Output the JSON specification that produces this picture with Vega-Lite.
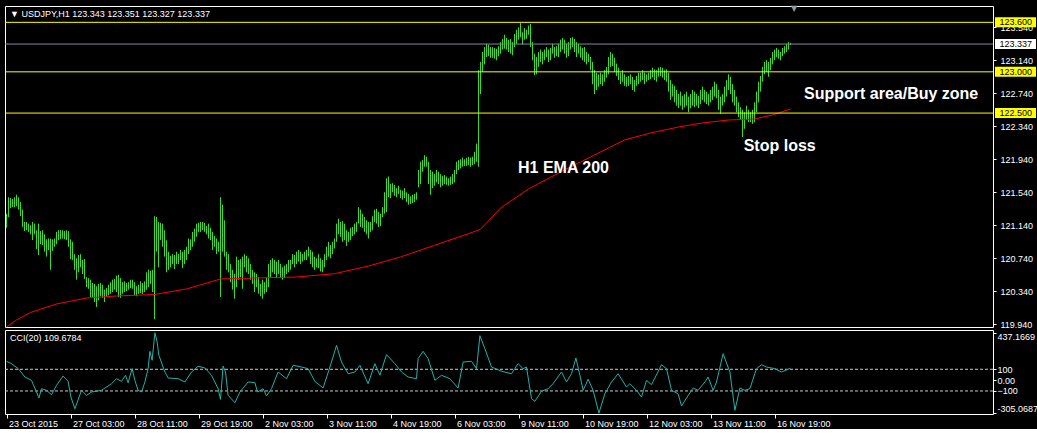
{
  "$schema": "https://vega.github.io/schema/vega-lite/v6.json",
  "background": "#000000",
  "padding": {"left": 4, "top": 4, "right": 0, "bottom": 0},
  "bounds": "flush",
  "spacing": 3,
  "config": {
    "view": {"stroke": "#FFFFFF", "strokeWidth": 1},
    "axis": {"labelFont": "Liberation Sans", "labelFontSize": 9, "labelColor": "#FFFFFF", "tickColor": "#FFFFFF", "domain": false, "grid": false, "title": null, "labelOverlap": false, "tickCount": 100},
    "scale": {"continuousPadding": 0}
  },
  "datasets": {
    "bars": [
      {"i":0,"h":121.28,"l":121.11},{"i":1,"h":121.48,"l":121.24},{"i":2,"h":121.47,"l":121.35},{"i":3,"h":121.46,"l":121.36},{"i":4,"h":121.48,"l":121.36},{"i":5,"h":121.51,"l":121.37},{"i":6,"h":121.48,"l":121.33},{"i":7,"h":121.42,"l":121.25},{"i":8,"h":121.33,"l":121.12},{"i":9,"h":121.18,"l":121.07},
      {"i":10,"h":121.18,"l":121.08},{"i":11,"h":121.16,"l":121.06},{"i":12,"h":121.14,"l":121.03},{"i":13,"h":121.18,"l":120.96},{"i":14,"h":121.16,"l":121.03},{"i":15,"h":121.08,"l":120.85},{"i":16,"h":121.16,"l":120.78},{"i":17,"h":121.07,"l":120.91},{"i":18,"h":121.08,"l":120.90},{"i":19,"h":121.03,"l":120.82},
      {"i":20,"h":120.97,"l":120.76},{"i":21,"h":120.98,"l":120.84},{"i":22,"h":120.98,"l":120.60},{"i":23,"h":120.97,"l":120.83},{"i":24,"h":120.98,"l":120.88},{"i":25,"h":121.06,"l":120.91},{"i":26,"h":121.08,"l":120.96},{"i":27,"h":121.08,"l":120.97},{"i":28,"h":121.08,"l":120.98},{"i":29,"h":121.07,"l":120.97},
      {"i":30,"h":121.08,"l":120.96},{"i":31,"h":121.07,"l":120.88},{"i":32,"h":120.97,"l":120.73},{"i":33,"h":120.94,"l":120.72},{"i":34,"h":120.79,"l":120.60},{"i":35,"h":120.74,"l":120.48},{"i":36,"h":120.78,"l":120.57},{"i":37,"h":120.79,"l":120.63},{"i":38,"h":120.72,"l":120.55},{"i":39,"h":120.73,"l":120.49},
      {"i":40,"h":120.51,"l":120.39},{"i":41,"h":120.50,"l":120.37},{"i":42,"h":120.48,"l":120.27},{"i":43,"h":120.44,"l":120.26},{"i":44,"h":120.43,"l":120.21},{"i":45,"h":120.40,"l":120.15},{"i":46,"h":120.43,"l":120.23},{"i":47,"h":120.44,"l":120.28},{"i":48,"h":120.42,"l":120.26},{"i":49,"h":120.36,"l":120.21},
      {"i":50,"h":120.38,"l":120.28},{"i":51,"h":120.42,"l":120.29},{"i":52,"h":120.45,"l":120.31},{"i":53,"h":120.48,"l":120.33},{"i":54,"h":120.49,"l":120.36},{"i":55,"h":120.53,"l":120.33},{"i":56,"h":120.54,"l":120.27},{"i":57,"h":120.50,"l":120.26},{"i":58,"h":120.45,"l":120.31},{"i":59,"h":120.46,"l":120.33},
      {"i":60,"h":120.44,"l":120.34},{"i":61,"h":120.45,"l":120.36},{"i":62,"h":120.48,"l":120.38},{"i":63,"h":120.48,"l":120.37},{"i":64,"h":120.45,"l":120.29},{"i":65,"h":120.40,"l":120.28},{"i":66,"h":120.42,"l":120.31},{"i":67,"h":120.46,"l":120.32},{"i":68,"h":120.44,"l":120.31},{"i":69,"h":120.46,"l":120.33},
      {"i":70,"h":120.57,"l":120.36},{"i":71,"h":120.60,"l":120.39},{"i":72,"h":120.59,"l":120.43},{"i":73,"h":120.60,"l":120.33},{"i":74,"h":121.25,"l":120.00},{"i":75,"h":121.24,"l":120.82},{"i":76,"h":121.18,"l":120.63},{"i":77,"h":121.17,"l":120.96},{"i":78,"h":121.16,"l":120.88},{"i":79,"h":121.08,"l":120.76},
      {"i":80,"h":120.96,"l":120.57},{"i":81,"h":120.82,"l":120.60},{"i":82,"h":120.77,"l":120.63},{"i":83,"h":120.79,"l":120.67},{"i":84,"h":120.78,"l":120.61},{"i":85,"h":120.82,"l":120.67},{"i":86,"h":120.79,"l":120.67},{"i":87,"h":120.84,"l":120.72},{"i":88,"h":120.82,"l":120.62},{"i":89,"h":120.84,"l":120.67},
      {"i":90,"h":120.88,"l":120.72},{"i":91,"h":120.98,"l":120.79},{"i":92,"h":120.97,"l":120.84},{"i":93,"h":121.06,"l":120.88},{"i":94,"h":121.10,"l":120.94},{"i":95,"h":121.16,"l":121.00},{"i":96,"h":121.17,"l":121.06},{"i":97,"h":121.18,"l":121.06},{"i":98,"h":121.18,"l":121.08},{"i":99,"h":121.17,"l":121.06},
      {"i":100,"h":121.13,"l":121.03},{"i":101,"h":121.16,"l":120.98},{"i":102,"h":121.11,"l":120.96},{"i":103,"h":121.06,"l":120.84},{"i":104,"h":121.01,"l":120.88},{"i":105,"h":120.98,"l":120.79},{"i":106,"h":120.94,"l":120.82},{"i":107,"h":121.48,"l":120.27},{"i":108,"h":121.39,"l":120.82},{"i":109,"h":121.20,"l":120.76},
      {"i":110,"h":120.82,"l":120.60},{"i":111,"h":120.79,"l":120.57},{"i":112,"h":120.67,"l":120.45},{"i":113,"h":120.60,"l":120.36},{"i":114,"h":120.55,"l":120.25},{"i":115,"h":120.76,"l":120.39},{"i":116,"h":120.72,"l":120.48},{"i":117,"h":120.73,"l":120.51},{"i":118,"h":120.76,"l":120.37},{"i":119,"h":120.79,"l":120.63},
      {"i":120,"h":120.77,"l":120.57},{"i":121,"h":120.74,"l":120.55},{"i":122,"h":120.67,"l":120.48},{"i":123,"h":120.60,"l":120.43},{"i":124,"h":120.57,"l":120.33},{"i":125,"h":120.55,"l":120.39},{"i":126,"h":120.51,"l":120.31},{"i":127,"h":120.43,"l":120.28},{"i":128,"h":120.48,"l":120.25},{"i":129,"h":120.45,"l":120.31},
      {"i":130,"h":120.51,"l":120.33},{"i":131,"h":120.67,"l":120.39},{"i":132,"h":120.72,"l":120.51},{"i":133,"h":120.74,"l":120.57},{"i":134,"h":120.72,"l":120.55},{"i":135,"h":120.70,"l":120.50},{"i":136,"h":120.72,"l":120.55},{"i":137,"h":120.67,"l":120.50},{"i":138,"h":120.63,"l":120.48},{"i":139,"h":120.65,"l":120.50},
      {"i":140,"h":120.67,"l":120.55},{"i":141,"h":120.72,"l":120.57},{"i":142,"h":120.72,"l":120.60},{"i":143,"h":120.79,"l":120.67},{"i":144,"h":120.78,"l":120.63},{"i":145,"h":120.82,"l":120.67},{"i":146,"h":120.84,"l":120.70},{"i":147,"h":120.82,"l":120.67},{"i":148,"h":120.79,"l":120.70},{"i":149,"h":120.82,"l":120.72},
      {"i":150,"h":120.84,"l":120.72},{"i":151,"h":120.88,"l":120.76},{"i":152,"h":120.84,"l":120.67},{"i":153,"h":120.82,"l":120.63},{"i":154,"h":120.76,"l":120.60},{"i":155,"h":120.74,"l":120.63},{"i":156,"h":120.79,"l":120.62},{"i":157,"h":120.74,"l":120.58},{"i":158,"h":120.72,"l":120.57},{"i":159,"h":120.79,"l":120.63},
      {"i":160,"h":120.88,"l":120.72},{"i":161,"h":120.94,"l":120.76},{"i":162,"h":120.90,"l":120.74},{"i":163,"h":120.94,"l":120.79},{"i":164,"h":120.98,"l":120.86},{"i":165,"h":121.16,"l":120.94},{"i":166,"h":121.22,"l":121.03},{"i":167,"h":121.18,"l":121.00},{"i":168,"h":121.19,"l":120.94},{"i":169,"h":121.16,"l":120.96},
      {"i":170,"h":121.08,"l":120.89},{"i":171,"h":121.06,"l":120.94},{"i":172,"h":121.11,"l":120.96},{"i":173,"h":121.12,"l":121.01},{"i":174,"h":121.16,"l":121.03},{"i":175,"h":121.18,"l":121.06},{"i":176,"h":121.36,"l":121.16},{"i":177,"h":121.33,"l":121.12},{"i":178,"h":121.28,"l":121.11},{"i":179,"h":121.24,"l":121.06},
      {"i":180,"h":121.20,"l":121.03},{"i":181,"h":121.18,"l":120.98},{"i":182,"h":121.18,"l":121.06},{"i":183,"h":121.25,"l":121.08},{"i":184,"h":121.33,"l":121.18},{"i":185,"h":121.34,"l":121.16},{"i":186,"h":121.30,"l":121.12},{"i":187,"h":121.28,"l":121.13},{"i":188,"h":121.36,"l":121.24},{"i":189,"h":121.54,"l":121.28},
      {"i":190,"h":121.71,"l":121.30},{"i":191,"h":121.73,"l":121.48},{"i":192,"h":121.64,"l":121.47},{"i":193,"h":121.65,"l":121.54},{"i":194,"h":121.63,"l":121.50},{"i":195,"h":121.59,"l":121.48},{"i":196,"h":121.62,"l":121.52},{"i":197,"h":121.57,"l":121.47},{"i":198,"h":121.56,"l":121.45},{"i":199,"h":121.59,"l":121.47},
      {"i":200,"h":121.54,"l":121.42},{"i":201,"h":121.52,"l":121.39},{"i":202,"h":121.49,"l":121.40},{"i":203,"h":121.51,"l":121.41},{"i":204,"h":121.52,"l":121.42},{"i":205,"h":121.54,"l":121.45},{"i":206,"h":121.81,"l":121.60},{"i":207,"h":121.91,"l":121.64},{"i":208,"h":121.93,"l":121.79},{"i":209,"h":121.99,"l":121.85},
      {"i":210,"h":121.97,"l":121.85},{"i":211,"h":121.91,"l":121.64},{"i":212,"h":121.81,"l":121.51},{"i":213,"h":121.79,"l":121.59},{"i":214,"h":121.76,"l":121.62},{"i":215,"h":121.81,"l":121.66},{"i":216,"h":121.79,"l":121.64},{"i":217,"h":121.76,"l":121.60},{"i":218,"h":121.74,"l":121.62},{"i":219,"h":121.75,"l":121.64},
      {"i":220,"h":121.73,"l":121.63},{"i":221,"h":121.71,"l":121.62},{"i":222,"h":121.73,"l":121.63},{"i":223,"h":121.76,"l":121.64},{"i":224,"h":121.81,"l":121.66},{"i":225,"h":121.91,"l":121.76},{"i":226,"h":121.93,"l":121.81},{"i":227,"h":121.94,"l":121.83},{"i":228,"h":121.96,"l":121.85},{"i":229,"h":121.94,"l":121.86},
      {"i":230,"h":121.96,"l":121.86},{"i":231,"h":121.97,"l":121.87},{"i":232,"h":121.96,"l":121.85},{"i":233,"h":121.97,"l":121.87},{"i":234,"h":122.03,"l":121.88},{"i":235,"h":122.13,"l":121.91},{"i":236,"h":123.02,"l":121.85},{"i":237,"h":123.12,"l":122.73},{"i":238,"h":123.24,"l":123.00},{"i":239,"h":123.30,"l":123.09},
      {"i":240,"h":123.34,"l":123.18},{"i":241,"h":123.33,"l":123.19},{"i":242,"h":123.30,"l":123.17},{"i":243,"h":123.30,"l":123.17},{"i":244,"h":123.29,"l":123.16},{"i":245,"h":123.28,"l":123.14},{"i":246,"h":123.31,"l":123.19},{"i":247,"h":123.36,"l":123.22},{"i":248,"h":123.40,"l":123.27},{"i":249,"h":123.45,"l":123.28},
      {"i":250,"h":123.41,"l":123.27},{"i":251,"h":123.39,"l":123.24},{"i":252,"h":123.40,"l":123.22},{"i":253,"h":123.36,"l":123.20},{"i":254,"h":123.46,"l":123.30},{"i":255,"h":123.51,"l":123.34},{"i":256,"h":123.54,"l":123.39},{"i":257,"h":123.59,"l":123.42},{"i":258,"h":123.48,"l":123.33},{"i":259,"h":123.53,"l":123.39},
      {"i":260,"h":123.51,"l":123.40},{"i":261,"h":123.56,"l":123.45},{"i":262,"h":123.58,"l":123.30},{"i":263,"h":123.36,"l":123.14},{"i":264,"h":123.22,"l":122.96},{"i":265,"h":123.18,"l":122.97},{"i":266,"h":123.24,"l":123.06},{"i":267,"h":123.27,"l":123.12},{"i":268,"h":123.24,"l":123.09},{"i":269,"h":123.27,"l":123.14},
      {"i":270,"h":123.30,"l":123.18},{"i":271,"h":123.27,"l":123.12},{"i":272,"h":123.29,"l":123.14},{"i":273,"h":123.34,"l":123.22},{"i":274,"h":123.30,"l":123.17},{"i":275,"h":123.31,"l":123.19},{"i":276,"h":123.34,"l":123.18},{"i":277,"h":123.39,"l":123.24},{"i":278,"h":123.41,"l":123.27},{"i":279,"h":123.39,"l":123.22},
      {"i":280,"h":123.34,"l":123.17},{"i":281,"h":123.36,"l":123.19},{"i":282,"h":123.41,"l":123.27},{"i":283,"h":123.42,"l":123.30},{"i":284,"h":123.40,"l":123.24},{"i":285,"h":123.36,"l":123.18},{"i":286,"h":123.34,"l":123.22},{"i":287,"h":123.31,"l":123.17},{"i":288,"h":123.29,"l":123.14},{"i":289,"h":123.30,"l":123.12},
      {"i":290,"h":123.24,"l":123.09},{"i":291,"h":123.22,"l":123.12},{"i":292,"h":123.18,"l":123.02},{"i":293,"h":123.12,"l":122.85},{"i":294,"h":123.02,"l":122.73},{"i":295,"h":122.99,"l":122.78},{"i":296,"h":122.97,"l":122.82},{"i":297,"h":122.99,"l":122.85},{"i":298,"h":122.97,"l":122.83},{"i":299,"h":123.02,"l":122.88},
      {"i":300,"h":123.06,"l":122.93},{"i":301,"h":123.18,"l":122.97},{"i":302,"h":123.24,"l":123.06},{"i":303,"h":123.22,"l":123.07},{"i":304,"h":123.17,"l":123.00},{"i":305,"h":123.10,"l":122.95},{"i":306,"h":123.05,"l":122.90},{"i":307,"h":122.99,"l":122.85},{"i":308,"h":123.02,"l":122.88},{"i":309,"h":122.97,"l":122.83},
      {"i":310,"h":122.94,"l":122.82},{"i":311,"h":122.95,"l":122.83},{"i":312,"h":122.97,"l":122.85},{"i":313,"h":122.94,"l":122.78},{"i":314,"h":122.90,"l":122.76},{"i":315,"h":122.95,"l":122.83},{"i":316,"h":122.99,"l":122.85},{"i":317,"h":122.99,"l":122.88},{"i":318,"h":123.02,"l":122.90},{"i":319,"h":122.99,"l":122.85},
      {"i":320,"h":122.97,"l":122.88},{"i":321,"h":122.99,"l":122.90},{"i":322,"h":123.02,"l":122.91},{"i":323,"h":123.05,"l":122.93},{"i":324,"h":123.03,"l":122.90},{"i":325,"h":123.02,"l":122.88},{"i":326,"h":123.05,"l":122.94},{"i":327,"h":123.06,"l":122.95},{"i":328,"h":123.05,"l":122.93},{"i":329,"h":123.02,"l":122.90},
      {"i":330,"h":123.03,"l":122.88},{"i":331,"h":122.99,"l":122.76},{"i":332,"h":122.90,"l":122.66},{"i":333,"h":122.85,"l":122.70},{"i":334,"h":122.83,"l":122.63},{"i":335,"h":122.78,"l":122.59},{"i":336,"h":122.73,"l":122.56},{"i":337,"h":122.76,"l":122.59},{"i":338,"h":122.71,"l":122.54},{"i":339,"h":122.73,"l":122.57},
      {"i":340,"h":122.76,"l":122.59},{"i":341,"h":122.70,"l":122.51},{"i":342,"h":122.73,"l":122.56},{"i":343,"h":122.78,"l":122.59},{"i":344,"h":122.76,"l":122.57},{"i":345,"h":122.73,"l":122.59},{"i":346,"h":122.71,"l":122.56},{"i":347,"h":122.78,"l":122.61},{"i":348,"h":122.82,"l":122.66},{"i":349,"h":122.78,"l":122.63},
      {"i":350,"h":122.76,"l":122.61},{"i":351,"h":122.73,"l":122.59},{"i":352,"h":122.78,"l":122.63},{"i":353,"h":122.82,"l":122.66},{"i":354,"h":122.88,"l":122.70},{"i":355,"h":122.85,"l":122.68},{"i":356,"h":122.78,"l":122.54},{"i":357,"h":122.70,"l":122.49},{"i":358,"h":122.73,"l":122.59},{"i":359,"h":122.82,"l":122.63},
      {"i":360,"h":122.90,"l":122.70},{"i":361,"h":122.97,"l":122.78},{"i":362,"h":122.94,"l":122.73},{"i":363,"h":122.85,"l":122.63},{"i":364,"h":122.78,"l":122.59},{"i":365,"h":122.70,"l":122.51},{"i":366,"h":122.63,"l":122.45},{"i":367,"h":122.57,"l":122.42},{"i":368,"h":122.54,"l":122.21},{"i":369,"h":122.51,"l":122.31},
      {"i":370,"h":122.59,"l":122.42},{"i":371,"h":122.54,"l":122.39},{"i":372,"h":122.51,"l":122.39},{"i":373,"h":122.54,"l":122.37},{"i":374,"h":122.63,"l":122.39},{"i":375,"h":122.76,"l":122.51},{"i":376,"h":122.88,"l":122.63},{"i":377,"h":122.95,"l":122.76},{"i":378,"h":123.06,"l":122.88},{"i":379,"h":123.12,"l":122.97},
      {"i":380,"h":123.14,"l":123.00},{"i":381,"h":123.12,"l":122.94},{"i":382,"h":123.17,"l":123.02},{"i":383,"h":123.24,"l":123.09},{"i":384,"h":123.27,"l":123.14},{"i":385,"h":123.29,"l":123.18},{"i":386,"h":123.27,"l":123.16},{"i":387,"h":123.24,"l":123.14},{"i":388,"h":123.29,"l":123.19},{"i":389,"h":123.31,"l":123.22},
      {"i":390,"h":123.34,"l":123.24},{"i":391,"h":123.36,"l":123.27},{"i":392,"h":123.351,"l":123.327}
    ],
    "ema": [
      {"i":0,"e":119.907},{"i":5,"e":119.992},{"i":12,"e":120.083},{"i":25,"e":120.186},{"i":40,"e":120.258},{"i":55,"e":120.283},{"i":74,"e":120.301},{"i":90,"e":120.368},{"i":107,"e":120.489},{"i":125,"e":120.501},{"i":145,"e":120.513},{"i":164,"e":120.553},{"i":181,"e":120.646},{"i":197,"e":120.756},{"i":214,"e":120.897},{"i":231,"e":121.038},{"i":237,"e":121.091},{"i":247,"e":121.349},{"i":261,"e":121.58},{"i":277,"e":121.786},{"i":292,"e":121.968},{"i":309,"e":122.174},{"i":322,"e":122.259},{"i":336,"e":122.331},{"i":348,"e":122.38},{"i":361,"e":122.416},{"i":374,"e":122.428},{"i":383,"e":122.477},{"i":392,"e":122.549}
    ],
    "cci": [
      {"i":0,"c":174},{"i":2.5,"c":152},{"i":5.9,"c":106},{"i":9.2,"c":29},{"i":12.5,"c":-2},{"i":15,"c":-110},{"i":16.2,"c":-165},{"i":17.5,"c":-79},{"i":20,"c":-94},{"i":22.5,"c":-134},{"i":25,"c":-48},{"i":28.3,"c":38},{"i":30.8,"c":-11},{"i":32.2,"c":-156},{"i":34.2,"c":-264},{"i":37.5,"c":-94},{"i":40,"c":-140},{"i":42.5,"c":-110},{"i":47.5,"c":-94},{"i":52.5,"c":-33},{"i":55,"c":13},{"i":57.5,"c":-11},{"i":59.5,"c":45},{"i":60.8,"c":-24},{"i":62.8,"c":106},{"i":64.2,"c":-2},{"i":65.8,"c":-94},{"i":67.5,"c":-110},{"i":69.2,"c":-17},{"i":70.8,"c":106},{"i":71.7,"c":266},{"i":72.8,"c":183},{"i":74.2,"c":437},{"i":75.3,"c":352},{"i":76.2,"c":229},{"i":79.2,"c":75},{"i":80.8,"c":20},{"i":85.8,"c":13},{"i":89.2,"c":-17},{"i":92.5,"c":75},{"i":95.8,"c":128},{"i":99.2,"c":112},{"i":102.5,"c":45},{"i":105.8,"c":-79},{"i":107,"c":-177},{"i":108.3,"c":130},{"i":109.5,"c":75},{"i":110.8,"c":-140},{"i":114.2,"c":-208},{"i":116.7,"c":-110},{"i":120.8,"c":-17},{"i":124.2,"c":-24},{"i":125.5,"c":-110},{"i":128.3,"c":-79},{"i":130,"c":-146},{"i":132.5,"c":-79},{"i":135.8,"c":75},{"i":140,"c":13},{"i":143.3,"c":137},{"i":147.5,"c":121},{"i":150.8,"c":106},{"i":154.2,"c":-11},{"i":158.3,"c":-73},{"i":162.5,"c":167},{"i":165,"c":321},{"i":167.5,"c":167},{"i":170.8,"c":59},{"i":174.2,"c":75},{"i":176.7,"c":137},{"i":180.8,"c":-33},{"i":184.2,"c":152},{"i":186.7,"c":45},{"i":190,"c":235},{"i":194.2,"c":152},{"i":197.5,"c":75},{"i":200.8,"c":29},{"i":205,"c":13},{"i":205.8,"c":198},{"i":208.3,"c":266},{"i":210.8,"c":198},{"i":214.2,"c":-2},{"i":217.5,"c":45},{"i":221.7,"c":13},{"i":225.8,"c":-73},{"i":228.3,"c":167},{"i":232.5,"c":174},{"i":235,"c":106},{"i":236.7,"c":410},{"i":239.2,"c":290},{"i":242.5,"c":121},{"i":247.5,"c":82},{"i":252.5,"c":59},{"i":255.8,"c":152},{"i":258.3,"c":106},{"i":260,"c":121},{"i":262.5,"c":-171},{"i":264.2,"c":-195},{"i":267.5,"c":-103},{"i":270.8,"c":-79},{"i":273.3,"c":-33},{"i":277.5,"c":75},{"i":280,"c":-17},{"i":282.5,"c":59},{"i":284.7,"c":204},{"i":286.7,"c":45},{"i":288.3,"c":-94},{"i":290.8,"c":8},{"i":293.3,"c":-94},{"i":296.2,"c":-305},{"i":299.2,"c":-125},{"i":302.5,"c":-17},{"i":305.8,"c":59},{"i":310,"c":-63},{"i":311.7,"c":-33},{"i":315,"c":-94},{"i":317.5,"c":-156},{"i":320,"c":-2},{"i":322.5,"c":-42},{"i":327.5,"c":142},{"i":330,"c":106},{"i":332.5,"c":-94},{"i":335.8,"c":-125},{"i":337.5,"c":-239},{"i":340,"c":-165},{"i":343.3,"c":-73},{"i":345.8,"c":-94},{"i":349.2,"c":-17},{"i":350.8,"c":29},{"i":353.3,"c":-94},{"i":355,"c":-17},{"i":358.3,"c":244},{"i":361.7,"c":75},{"i":364.2,"c":-278},{"i":366.7,"c":-73},{"i":369.2,"c":-94},{"i":371.7,"c":-79},{"i":375,"c":106},{"i":377.5,"c":142},{"i":380,"c":121},{"i":384.2,"c":106},{"i":387.5,"c":75},{"i":392,"c":109.68}
    ],
    "levels": [{"p":123.6},{"p":123.0},{"p":122.5}],
    "last": [{"p":123.337}],
    "tags": [{"p":123.6,"t":"123.600","k":"line"},{"p":123.0,"t":"123.000","k":"line"},{"p":122.5,"t":"122.500","k":"line"},{"p":123.337,"t":"123.337","k":"bid"}],
    "notes": [{"i":398.75,"p":122.671,"t":"Support area/Buy zone"},{"i":368.6,"p":122.04,"t":"Stop loss"},{"i":255.75,"p":121.774,"t":"H1 EMA 200"}],
    "head": [{"i":1.75,"p":123.701,"t":"▼ USDJPY,H1  123.343 123.351 123.327 123.337"}],
    "shift": [{"i":393.75,"p":123.761,"t":"▼"}],
    "ccihead": [{"i":1.75,"c":389,"t":"CCI(20) 109.6784"}],
    "ccilevels": [{"c":100},{"c":-100}]
  },
  "vconcat": [
    {
      "width": 988,
      "height": 321,
      "layer": [
        {
          "data": {"name": "bars"},
          "mark": {"type": "rule", "color": "#3ADB2A", "strokeWidth": 1},
          "encoding": {
            "x": {"field": "i", "type": "quantitative", "scale": {"domain": [-0.75, 493.25], "nice": false, "zero": false, "padding": 0}, "axis": null},
            "y": {"field": "l", "type": "quantitative", "scale": {"domain": [119.907, 123.798], "zero": false, "nice": false, "padding": 0},
                  "axis": {"orient": "right", "values": [119.94, 120.34, 120.74, 121.14, 121.54, 121.94, 122.34, 122.74, 123.14, 123.54], "format": ".3f", "tickSize": 3, "labelPadding": 4, "labelFlush": false, "labelOverlap": false, "tickCount": 100}},
            "y2": {"field": "h"}
          }
        },
        {
          "data": {"name": "ema"},
          "mark": {"type": "line", "color": "#FF0000", "strokeWidth": 1},
          "encoding": {
            "x": {"field": "i", "type": "quantitative", "scale": {"domain": [-0.75, 493.25], "nice": false, "zero": false, "padding": 0}},
            "y": {"field": "e", "type": "quantitative", "scale": {"domain": [119.907, 123.798], "zero": false, "nice": false, "padding": 0}}
          }
        },
        {
          "data": {"name": "levels"},
          "mark": {"type": "rule", "color": "#FFFF00", "strokeWidth": 1},
          "encoding": {"y": {"field": "p", "type": "quantitative", "scale": {"domain": [119.907, 123.798], "zero": false, "nice": false, "padding": 0}}}
        },
        {
          "data": {"name": "last"},
          "mark": {"type": "rule", "color": "#7F8C9C", "strokeWidth": 1},
          "encoding": {"y": {"field": "p", "type": "quantitative", "scale": {"domain": [119.907, 123.798], "zero": false, "nice": false, "padding": 0}}}
        },
        {
          "data": {"name": "tags"},
          "mark": {"type": "bar", "size": 10},
          "encoding": {
            "y": {"field": "p", "type": "quantitative", "scale": {"domain": [119.907, 123.798], "zero": false, "nice": false, "padding": 0}},
            "x": {"datum": 494.25, "type": "quantitative", "scale": {"domain": [-0.75, 493.25], "nice": false, "zero": false, "padding": 0}},
            "x2": {"datum": 514.75},
            "color": {"field": "k", "type": "nominal", "scale": {"domain": ["line", "bid"], "range": ["#FFFF00", "#FFFFFF"]}, "legend": null}
          }
        },
        {
          "data": {"name": "tags"},
          "mark": {"type": "text", "align": "left", "baseline": "middle", "font": "Liberation Sans", "fontSize": 9, "color": "#000000"},
          "encoding": {
            "y": {"field": "p", "type": "quantitative", "scale": {"domain": [119.907, 123.798], "zero": false, "nice": false, "padding": 0}},
            "x": {"datum": 496.5, "type": "quantitative", "scale": {"domain": [-0.75, 493.25], "nice": false, "zero": false, "padding": 0}},
            "text": {"field": "t"}
          }
        },
        {
          "data": {"name": "notes"},
          "mark": {"type": "text", "align": "left", "baseline": "alphabetic", "font": "Liberation Sans", "fontSize": 16, "fontWeight": "bold", "color": "#FFFFFF"},
          "encoding": {
            "x": {"field": "i", "type": "quantitative", "scale": {"domain": [-0.75, 493.25], "nice": false, "zero": false, "padding": 0}},
            "y": {"field": "p", "type": "quantitative", "scale": {"domain": [119.907, 123.798], "zero": false, "nice": false, "padding": 0}},
            "text": {"field": "t"}
          }
        },
        {
          "data": {"name": "head"},
          "mark": {"type": "text", "align": "left", "baseline": "middle", "font": "Liberation Sans", "fontSize": 9, "color": "#FFFFFF"},
          "encoding": {
            "x": {"field": "i", "type": "quantitative", "scale": {"domain": [-0.75, 493.25], "nice": false, "zero": false, "padding": 0}},
            "y": {"field": "p", "type": "quantitative", "scale": {"domain": [119.907, 123.798], "zero": false, "nice": false, "padding": 0}},
            "text": {"field": "t"}
          }
        },
        {
          "data": {"name": "shift"},
          "mark": {"type": "text", "align": "center", "baseline": "middle", "font": "DejaVu Sans", "fontSize": 8, "color": "#9A9A9A"},
          "encoding": {
            "x": {"field": "i", "type": "quantitative", "scale": {"domain": [-0.75, 493.25], "nice": false, "zero": false, "padding": 0}},
            "y": {"field": "p", "type": "quantitative", "scale": {"domain": [119.907, 123.798], "zero": false, "nice": false, "padding": 0}},
            "text": {"field": "t"}
          }
        }
      ]
    },
    {
      "width": 988,
      "height": 84,
      "layer": [
        {
          "data": {"name": "ccilevels"},
          "mark": {"type": "rule", "color": "#C8C8C8", "strokeWidth": 1, "strokeDash": [3, 2]},
          "encoding": {
            "y": {"field": "c", "type": "quantitative", "scale": {"domain": [-312.6, 462.7], "zero": false, "nice": false, "padding": 0},
                  "axis": {"orient": "right", "values": [437.1669, 100, 0, -100, -305.0687], "labelExpr": "datum.value > 400 ? '437.1669' : datum.value < -300 ? '-305.0687' : datum.value == 0 ? '0.00' : format(datum.value, 'd')", "tickSize": 3, "labelPadding": 1, "labelFlush": 4, "labelOverlap": false, "tickCount": 100}}
          }
        },
        {
          "data": {"name": "cci"},
          "mark": {"type": "line", "color": "#20B2AA", "strokeWidth": 1},
          "encoding": {
            "x": {"field": "i", "type": "quantitative", "scale": {"domain": [-0.75, 493.25], "nice": false, "zero": false, "padding": 0},
                  "axis": {"values": [0, 32, 64, 96, 128, 160, 192, 224, 256, 288, 320, 352, 384], "labelExpr": "['23 Oct 2015','27 Oct 03:00','28 Oct 11:00','29 Oct 19:00','2 Nov 03:00','3 Nov 11:00','4 Nov 19:00','6 Nov 03:00','9 Nov 11:00','10 Nov 19:00','12 Nov 03:00','13 Nov 11:00','16 Nov 19:00'][round(datum.value/32)]", "labelAlign": "left", "labelOffset": 2, "tickSize": 4, "labelPadding": 1, "labelFlush": false, "labelOverlap": false, "tickCount": 100}},
            "y": {"field": "c", "type": "quantitative", "scale": {"domain": [-312.6, 462.7], "zero": false, "nice": false, "padding": 0}}
          }
        },
        {
          "data": {"name": "ccihead"},
          "mark": {"type": "text", "align": "left", "baseline": "middle", "font": "Liberation Sans", "fontSize": 9, "color": "#FFFFFF"},
          "encoding": {
            "x": {"field": "i", "type": "quantitative", "scale": {"domain": [-0.75, 493.25], "nice": false, "zero": false, "padding": 0}},
            "y": {"field": "c", "type": "quantitative", "scale": {"domain": [-312.6, 462.7], "zero": false, "nice": false, "padding": 0}},
            "text": {"field": "t"}
          }
        }
      ]
    }
  ]
}
